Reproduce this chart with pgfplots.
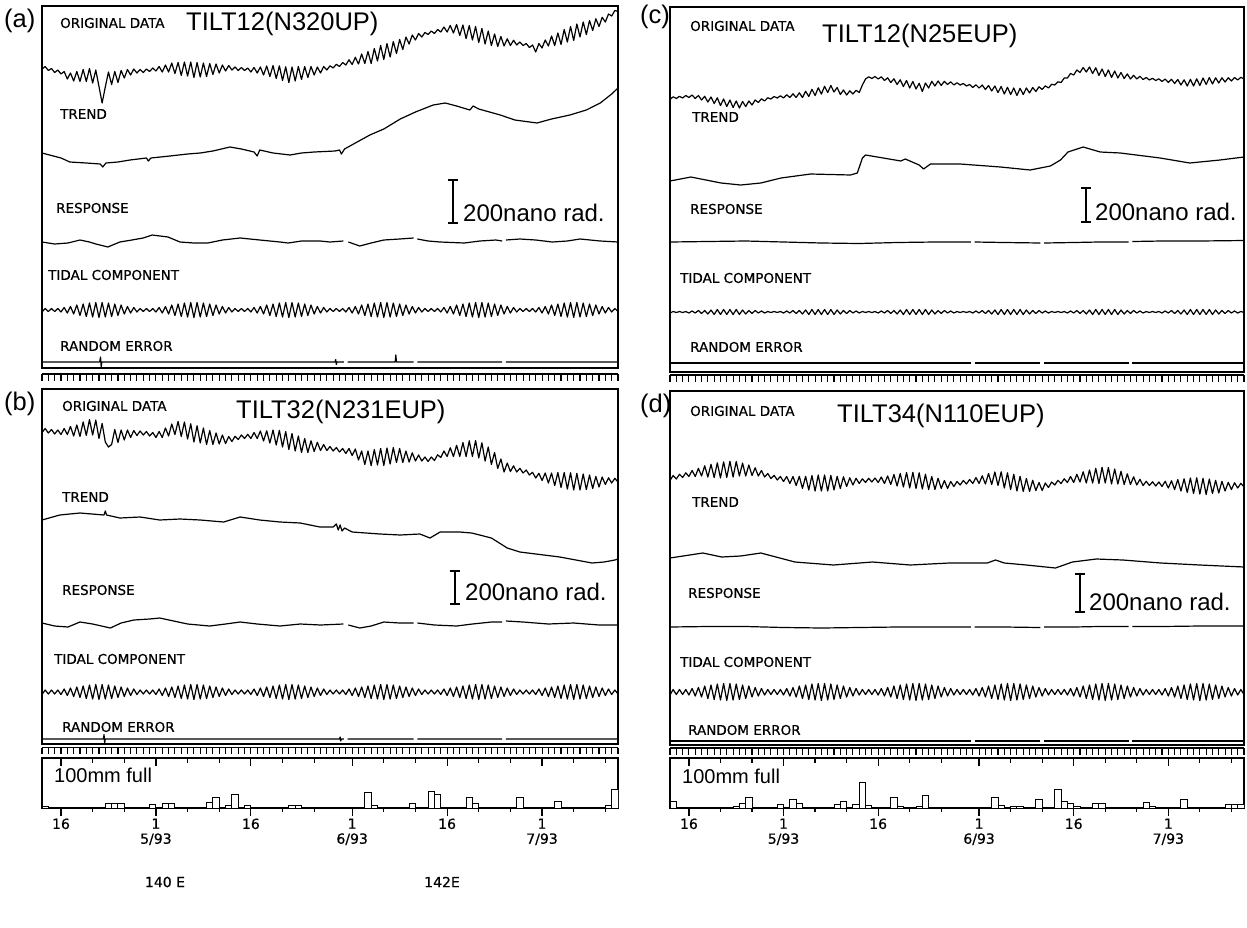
\documentclass[border=0pt]{standalone}
\usepackage{fontspec}
\setmainfont{Liberation Sans}
\newfontfamily\plt[FakeBold=0.6]{DejaVu Sans}
\usepackage{pgfplots}
\usepackage{pgfplotstable}
\pgfplotsset{compat=1.18}

% half-day samples: tidal components (t*) and original data (o*), values = position in the sheet (px rows)
\pgfplotstableread{
d ta oa tb ob tc oc td od
-18 312 69 694.5 432.5 313 99.5 695 480.5
-17.5 308.5 66.5 690 428.5 311.5 96.8 689.5 475.5
-17 311.5 70.5 694 433 312.5 98.5 694.5 479
-16.5 308.5 68.5 690 429.5 311.5 96.3 689.5 474.3
-16 311.5 72.5 694 434 312.5 98 694.5 477.5
-15.5 308.5 70 690 430 311.5 95.5 689.5 472.8
-15 312 74 694.5 434.5 313 97.5 695 476.5
-14.5 307.5 71.5 689 428.5 311 95 688.5 470.5
-14 313 79 695.5 434.5 313 98.5 696 476.5
-13.5 306.5 73 688 426.5 310.5 95.5 687.5 468.3
-13 314 81 696.5 436 313.5 100 697 476
-12.5 305 71.5 687 425 310.5 96.3 686 465.8
-12 315.5 81.5 697.5 436.5 314 102 698.5 477
-11.5 304 69.5 686 422 310 97 685 464.3
-11 316.5 81.5 698.5 435.5 314.5 103.5 699.5 477.5
-10.5 303 68.5 685 419.5 309.5 97.8 684 462.8
-10 317 83 699 435 314.5 105.5 700 478
-9.5 302.5 70 684.5 420 309.5 99 683.5 461.8
-9 317.5 86.5 699.5 438.5 314.5 106.5 700.5 477.5
-8.5 302.5 103 684.5 423.5 309.5 100 683.5 461.3
-8 317 87 699 442 314.5 107.5 700 477
-7.5 303 72 685 447 309.5 101 684 461.5
-7 316.5 84.5 698.5 444.5 314.5 108 699.5 476
-6.5 304 71.5 686 429.5 310 101.5 685 463
-6 315.5 82.5 697.5 442.5 314 106.5 698.5 476
-5.5 305 70.5 687 430 310.5 101 686 465
-5 314 78 696.5 440 313.5 105 697 475.5
-4.5 306.5 69.5 688 430 310.5 100 687.5 467.8
-4 313 75 695.5 437.5 313 102.5 696 476
-3.5 307.5 69 689 430.5 311 98.8 688.5 470.5
-3 312 73 694.5 435.5 313 101 695 477
-2.5 308.5 69.5 690 431 311.5 97.8 689.5 473.5
-2 311.5 72.5 694 435 312.5 99 694.5 478.5
-1.5 308.5 69 690 431.5 311.5 96.5 689.5 475.3
-1 311.5 71.5 694 436 312.5 98 694.5 480
-0.5 308.5 68 690 432.5 311.5 95.8 689.5 476.5
0 312 71 694.5 437.5 313 98 695 481.5
0.5 307.5 66.5 689 431.5 311 94.8 688.5 476.5
1 313 72 695.5 437.5 313 97.5 696 483.5
1.5 306.5 65 688 428 310.5 93.8 687.5 476.5
2 314 72 696.5 436 313.5 97.5 697 485.5
2.5 305 63 687 424 310.5 92.8 686 476.3
3 315.5 73.5 697.5 434.5 314 97.5 698.5 488.5
3.5 304 62.5 686 421.5 310 91.3 685 476.3
4 316.5 75.5 698.5 436.5 314.5 96.5 699.5 490
4.5 303 62 685 422 309.5 89.3 684 475.5
5 317 76 699 439 314.5 95.5 700 491
5.5 302.5 62 684.5 423.8 309.5 87.8 683.5 475
6 317.5 77.5 699.5 442 314.5 94 700.5 491
6.5 302.5 62.5 684.5 425.8 309.5 86.3 683.5 475
7 317 77 699 443 314.5 92.5 700 491
7.5 303 63 685 428 309.5 85.5 684 475.5
8 316.5 76.5 698.5 444.5 314.5 92 699.5 490
8.5 304 63.5 686 430.5 310 87.5 685 476.3
9 315.5 74.5 697.5 444.5 314 94.5 698.5 488.5
9.5 305 64 687 433 310.5 90 686 476.8
10 314 73 696.5 444 313.5 95 697 486.5
10.5 306.5 65 688 435 310.5 90.8 687.5 477.8
11 313 71 695.5 443.5 313 94 696 485
11.5 307.5 65.5 689 436.5 311 90.3 688.5 478.3
12 312 70 694.5 441.5 313 92.5 695 483.5
12.5 308.5 67 690 436.3 311.5 85 689.5 478.8
13 311.5 70.5 694 439.5 312.5 79 694.5 482.5
13.5 308.5 67.5 690 435 311.5 76.8 689.5 478.3
14 311.5 70.5 694 438.5 312.5 78.5 694.5 482
14.5 308.5 68 690 434.3 311.5 76.5 689.5 478
15 312 72 694.5 438.5 313 79 695 482.5
15.5 307.5 67.5 689 432.5 311 76.8 688.5 477
16 313 73 695.5 438.5 313 80.5 696 483.5
16.5 306.5 67 688 431 310.5 77.8 687.5 476
17 314 75 696.5 441 313.5 82.5 697 484.5
17.5 305 66 687 430.8 310.5 78.8 686 474.5
18 315.5 76.5 697.5 443 314 84.5 698.5 486
18.5 304 65.5 686 430 310 79.8 685 473.5
19 316.5 78.5 698.5 445 314.5 86.5 699.5 487
19.5 303 65.8 685 430.3 309.5 80.5 684 472.5
20 317 80.5 699 447 314.5 88 700 488
20.5 302.5 66.8 684.5 431.5 309.5 81.5 683.5 472.3
21 317.5 82.5 699.5 449.5 314.5 89 700.5 488.5
21.5 302.5 67 684.5 433.5 309.5 83.3 683.5 472.8
22 317 81 699 451 314.5 91.5 700 489
22.5 303 66.5 685 436 309.5 83 684 474.3
23 316.5 79.5 698.5 452.5 314.5 88 699.5 489.5
23.5 304 66.5 686 438.5 310 81.3 685 476.5
24 315.5 77.5 697.5 452.5 314 86 698.5 489.5
24.5 305 66.5 687 440.8 310.5 81 686 478.3
25 314 75 696.5 451.5 313.5 85.5 697 488.5
25.5 306.5 67 688 442.3 310.5 81.3 687.5 480.5
26 313 73 695.5 450.5 313 84.5 696 488.5
26.5 307.5 66.5 689 444.5 311 81.8 688.5 481.5
27 312 70 694.5 450.5 313 85 695 486.5
27.5 308.5 65.8 690 446.5 311.5 82.8 689.5 481.5
28 311.5 68 694 451 312.5 85 694.5 485
28.5 308.5 64.3 690 447.5 311.5 83.5 689.5 480.5
29 311.5 66.5 694 452 312.5 86 694.5 484
29.5 308.5 62.5 690 448.5 311.5 84.5 689.5 479.5
30 312 65 694.5 453.5 313 87.5 695 483.5
30.5 307.5 59.8 689 448.5 311 84.8 688.5 477.5
31 313 64.5 695.5 455.5 313 88 696 483.5
31.5 306.5 57.3 688 449 310.5 85 687.5 475.8
32 314 64 696.5 460 313.5 89.5 697 484
32.5 305 54 687 451 310.5 85.5 686 473.5
33 315.5 63.5 697.5 464.5 314 91 698.5 484.5
33.5 304 51.5 686 451 310 86 685 472
34 316.5 63.5 698.5 465.5 314.5 92.5 699.5 485.5
34.5 303 48.5 685 449.5 309.5 86.5 684 471.8
35 317 61 699 465 314.5 94 700 488
35.5 302.5 45.5 684.5 448.5 309.5 87.3 683.5 472.8
36 317.5 59.5 699.5 465.5 314.5 94.5 700.5 489.5
36.5 302.5 43.5 684.5 448 309.5 88 683.5 474.3
37 317 57 699 464 314.5 95.5 700 491
37.5 303 41.5 685 447.5 309.5 88.3 684 476.3
38 316.5 53.5 698.5 462.5 314.5 94.5 699.5 491.5
38.5 304 39.5 686 448.5 310 88 685 478.5
39 315.5 49.5 697.5 462.5 314 93 698.5 491.5
39.5 305 37 687 451 310.5 87.5 686 480.3
40 314 44 696.5 462 313.5 91.5 697 490.5
40.5 306.5 35 688 452.8 310.5 86.8 687.5 482.5
41 313 40 695.5 461 313 89.5 696 490.5
41.5 307.5 33.5 689 455 311 85.8 688.5 483
42 312 37 694.5 461 313 88 695 487.5
42.5 308.5 32.5 690 457 311.5 84.3 689.5 482
43 311.5 34.5 694 461.5 312.5 85 694.5 485
43.5 308.5 31 690 457 311.5 81.8 689.5 480.3
44 311.5 33.5 694 460.5 312.5 82.5 694.5 483.5
44.5 308.5 29.5 690 454.8 311.5 78 689.5 478.8
45 312 32 694.5 457.5 313 78 695 482.5
45.5 307.5 27 689 451 311 73.5 688.5 476.5
46 313 32 695.5 456.5 313 75 696 482.5
46.5 306.5 25.5 688 447.8 310.5 70 687.5 474.3
47 314 33 696.5 456.5 313.5 72.5 697 482
47.5 305 24.5 687 445.3 310.5 67.5 686 471.8
48 315.5 35.5 697.5 456.5 314 72 698.5 483
48.5 304 25 686 442.5 310 67 685 470
49 316.5 38.5 698.5 456.5 314.5 73.5 699.5 483
49.5 303 25.5 685 440.8 309.5 67.8 684 468.3
50 317 40 699 456.5 314.5 75.5 700 483.5
50.5 302.5 26.5 684.5 440.5 309.5 69 683.5 467.3
51 317.5 42.5 699.5 458 314.5 76.5 700.5 483
51.5 302.5 28.5 684.5 442.8 309.5 70 683.5 467.5
52 317 44 699 461 314.5 77.5 700 484
52.5 303 31 685 447 309.5 71 684 469
53 316.5 45.5 698.5 464.5 314.5 78 699.5 484
53.5 304 34 686 452.5 310 72.5 685 471.3
54 315.5 46.5 697.5 468.5 314 78.5 698.5 484.5
54.5 305 36.5 687 459 310.5 74 686 473.8
55 314 46 696.5 472 313.5 79 697 484.5
55.5 306.5 38.8 688 463 310.5 75.3 687.5 476.8
56 313 45.5 695.5 471.5 313 79 696 485
56.5 307.5 40.3 689 465.8 311 76.3 688.5 479.3
57 312 45 694.5 472 313 79.5 695 485.5
57.5 308.5 42 690 468.3 311.5 77.5 689.5 481.3
58 311.5 45.5 694 473 312.5 80 694.5 485.5
58.5 308.5 43.5 690 470 311.5 78.3 689.5 481.8
59 311.5 47.5 694 475 312.5 80.5 694.5 486
59.5 308.5 45 690 472.3 311.5 78.8 689.5 482
60 312 52 694.5 478 313 81.5 695 486.5
60.5 307.5 43.5 689 473.3 311 79 688.5 481.3
61 313 48 695.5 480.5 313 82.5 696 488
61.5 306.5 40 688 473 310.5 79.3 687.5 480.8
62 314 46 696.5 483 313.5 83.5 697 489.5
62.5 305 36 687 473 310.5 79.5 686 479.5
63 315.5 45.5 697.5 485.5 314 85 698.5 491
63.5 304 33 686 472.5 310 79.8 685 478.8
64 316.5 44.5 698.5 487.5 314.5 86 699.5 492.5
64.5 303 29.5 685 472.5 309.5 79.3 684 478
65 317 42 699 489 314.5 86 700 493.5
65.5 302.5 26.5 684.5 472.8 309.5 78.8 683.5 477.8
66 317.5 40.5 699.5 490 314.5 85.5 700.5 494
66.5 302.5 24 684.5 473.3 309.5 78 683.5 478.3
67 317 37 699 490 314.5 84.5 700 494.5
67.5 303 22 685 474 309.5 77.5 684 479
68 316.5 34.5 698.5 489.5 314.5 84 699.5 493.5
68.5 304 20.5 686 475 310 77.8 685 480.3
69 315.5 30.5 697.5 488.5 314 83 698.5 493
69.5 305 18.8 687 476.5 310.5 77.8 686 481.3
70 314 26.5 696.5 487 313.5 82 697 491
70.5 306.5 17.3 688 477 310.5 77.8 687.5 482.3
71 313 22 695.5 484.5 313 81 696 489.5
71.5 307.5 14 689 477.8 311 77.5 688.5 482.8
72 312 16 694.5 483 313 80 695 488
72.5 308.5 10.5 690 478.3 311.5 77.3 689.5 483.3
73 311.5 11.5 694 482 312.5 79 694.5 487
}\tides

\pgfplotsset{
  panel/.style={scale only axis, anchor=north west, xmin=-18, xmax=73,
    y dir=reverse, xtick=\empty, ytick=\empty,
    axis line style={line width=1.3pt}, unbounded coords=jump},
  tr/.style={black, line width=1.2pt, line join=round, mark=none},
  strip/.style={scale only axis, anchor=north west, height=6.5pt,
    xmin=-18, xmax=73, ymin=0, ymax=1,
    axis x line*=top, axis y line=none, ytick=\empty,
    xtick={-18,...,73}, xticklabels={}, tick align=inside,
    major tick length=6.5pt, tick style={line width=1.1pt, black},
    x axis line style={line width=1.2pt}},
  rain/.style={scale only axis, anchor=north west, height=50pt,
    xmin=-18, xmax=73, ymin=0, ymax=100, ytick=\empty,
    axis line style={line width=1.3pt},
    xtick={-15,0,15,31,46,61},
    xticklabels={16,{1\\5/93},16,{1\\6/93},16,{1\\7/93}},
    minor xtick={-10,-5,5,10,20,25,36,41,51,56,66,71},
    xtick pos=left, tick align=outside,
    major tick length=8pt, minor tick length=4pt,
    tick style={line width=1.2pt, black},
    xticklabel style={font=\plt\fontsize{14}{15}\selectfont, align=center, yshift=1pt}},
  raintop/.style={scale only axis, anchor=north west, height=50pt,
    xmin=-18, xmax=73, ymin=0, ymax=100,
    axis x line*=top, axis y line=none, ytick=\empty,
    xtick={-15,0,15,31,46,61}, xticklabels={},
    minor xtick={-10,-5,5,10,20,25,36,41,51,56,66,71},
    tick align=inside, major tick length=8pt, minor tick length=5pt,
    tick style={line width=1.2pt, black}, x axis line style={line width=1.3pt}},
  rbar/.style={ybar, bar width=1, bar shift=0pt, fill=white, draw=black, line width=1pt}
}
\tikzset{
  lab/.style={font=\plt\fontsize{13.5}{16}\selectfont, anchor=west, inner sep=0pt, text height=9.8pt, text depth=0pt},
  ttl/.style={font=\fontsize{25.5}{28}\selectfont, anchor=west, inner sep=0pt, text height=18.3pt, text depth=0pt},
  sbt/.style={font=\fontsize{24}{26}\selectfont, anchor=west, inner sep=0pt, text height=17pt, text depth=0pt}
}

\begin{document}
\begin{tikzpicture}
\path[use as bounding box] (0pt,0pt) rectangle (1247pt,-928pt);

% ---------------- panel (a)
\begin{axis}[panel, at={(42pt,-6pt)}, width=576pt, height=362pt, ymin=6, ymax=368]
\addplot[tr] table[x=d,y=oa]{\tides};
\addplot[tr] coordinates {(-18,153) (-15,158) (-13.6,162) (-11,163) (-8.8,164) (-8.4,167) (-7.9,163) (-6,162) (-4.1,160) (-1.5,158) (-1.2,161) (-0.8,158) (2.2,156) (5,154) (7,153) (9,151) (11.7,147) (13.5,149) (15.5,152) (16,156) (16.4,150) (18.5,153) (21.2,155) (23,153) (25,152) (28.3,151) (29,150) (29.3,154) (29.8,149) (31.5,143) (33.8,135) (36,129) (38.6,119) (41,112) (43.8,105) (45.7,103) (47.5,106) (49.6,110) (50.1,106) (51,109) (54.4,115) (56.7,120) (60.2,123) (62.5,119) (65.4,115) (68,110) (70.2,103) (72,94) (73,88)};
\addplot[tr] coordinates {(-18,242) (-16,244) (-13.9,243) (-12,240) (-10.5,242) (-9.5,244) (-7.6,247) (-5.7,242) (-3.8,240) (-2,238) (-0.6,235) (1.9,237) (3.8,242) (6,243) (8.2,243) (10.5,240) (13.3,238) (16.4,240) (19.6,242) (20.9,243) (23,241) (25.9,241) (27.5,242) (29.6,241) (30,nan) (30.4,242) (32.2,246) (34,243) (36,240) (38.5,239) (40.7,238) (41,nan) (41.3,239) (43,241) (44.9,242) (48.7,243) (51.2,241) (53.7,240) (54.7,241) (55,nan) (55.3,240) (57.5,239) (60,240) (62.6,242) (65,241) (67,239) (70.2,241) (73,242)};
\addplot[tr] table[x=d,y=ta]{\tides};
\addplot[tr] coordinates {(-18,362) (-8.9,362) (-8.75,357) (-8.65,367) (-8.55,362) (28.3,362) (28.4,359.5) (28.5,364.5) (28.6,362) (29.7,362) (30,nan) (30.3,362) (37.8,362) (37.9,355) (38.0,362) (40.7,362) (41,nan) (41.3,362) (54.7,362) (55,nan) (55.3,362) (73,362)};
\end{axis}
\begin{axis}[strip, at={(42pt,-374pt)}, width=576pt]
\addplot[draw=none] coordinates {(0,0.5)};
\end{axis}

% ---------------- panel (b)
\begin{axis}[panel, at={(42pt,-389pt)}, width=576pt, height=355pt, ymin=389, ymax=744]
\addplot[tr] table[x=d,y=ob]{\tides};
\addplot[tr] coordinates {(-18,520) (-15.2,515) (-12,513) (-8.2,515) (-8,511) (-7.8,515) (-5.7,518) (-2.5,517) (0.6,520) (3.8,519) (7,520) (10.7,522) (13.3,517) (16.4,520) (19.6,522) (22.8,523) (25.9,527) (28,527) (28.5,524) (28.8,530) (29.1,525) (29.4,531) (29.8,528) (31,532) (35.4,534) (38.6,535) (41.7,534) (43.3,538) (44.9,532) (48,532) (49.9,533) (53,538) (55.5,548) (57.5,552) (63.8,557) (68.9,563) (70.8,562) (72.5,560) (73,559)};
\addplot[tr] coordinates {(-18,623) (-16,626) (-13.9,627) (-12,622) (-10,624) (-7.2,628) (-5.5,623) (-3.5,620) (-1,619) (0.6,618) (2.8,621) (5,624) (8.5,626) (11,624) (13.3,622) (16,624) (19.6,626) (22.8,624) (26,625) (29.6,624) (30,nan) (30.4,625) (32.2,628) (34,626) (36,622) (38.5,623) (40.7,623) (41,nan) (41.3,623) (44,625) (47.5,626) (50,624) (53,622) (54.7,622) (55,nan) (55.3,621) (58,622) (62,624) (66,623) (70,625) (73,625)};
\addplot[tr] table[x=d,y=tb]{\tides};
\addplot[tr] coordinates {(-18,739) (-8.3,739) (-8.2,734.5) (-8.1,743) (-8.0,739) (29.0,739) (29.1,737) (29.2,741) (29.3,739) (29.7,739) (30,nan) (30.3,739) (40.7,739) (41,nan) (41.3,739) (54.7,739) (55,nan) (55.3,739) (73,739)};
\end{axis}
\begin{axis}[strip, at={(42pt,-747.5pt)}, width=576pt]
\addplot[draw=none] coordinates {(0,0.5)};
\end{axis}

% ---------------- panel (c)
\begin{axis}[panel, at={(670pt,-7pt)}, width=574pt, height=365pt, ymin=7, ymax=372]
\addplot[tr] table[x=d,y=oc]{\tides};
\addplot[tr] coordinates {(-18,181) (-14.7,177) (-9.9,183) (-6.8,185) (-3.6,183) (-0.4,178) (4.3,174) (10.6,175) (11.7,173) (12.5,158) (13,155) (18.6,161) (19.3,159) (21.5,165) (22.2,169) (23.3,164) (28,164) (34.4,167) (39.1,170) (42.3,166) (43.9,160) (45.1,152) (47.5,147) (50.2,152) (53.4,153) (59.7,158) (64.4,163) (69.2,160) (73,157)};
\addplot[tr] coordinates {(-18,242) (-12,241.5) (-6,241) (0,242) (6,243) (12,243.5) (18,242.5) (24,242) (29.7,242) (30,nan) (30.3,242) (35,242.5) (40.7,243) (41,nan) (41.3,243) (46,242.5) (50,242) (54.7,242) (55,nan) (55.3,241.5) (60,241) (66,241) (73,240.5)};
\addplot[tr] table[x=d,y=tc]{\tides};
\addplot[tr] coordinates {(-18,363) (29.7,363) (30,nan) (30.3,363) (40.7,363) (41,nan) (41.3,363) (54.7,363) (55,nan) (55.3,363) (73,363)};
\end{axis}
\begin{axis}[strip, at={(670pt,-375pt)}, width=574pt]
\addplot[draw=none] coordinates {(0,0.5)};
\end{axis}

% ---------------- panel (d)
\begin{axis}[panel, at={(670pt,-391pt)}, width=574pt, height=354pt, ymin=391, ymax=745]
\addplot[tr] table[x=d,y=od]{\tides};
\addplot[tr] coordinates {(-18,558) (-12.8,553) (-9.8,557) (-6.8,556) (-3.6,553) (-1.2,557) (1.8,562) (7.9,565) (14.1,562) (20.1,565) (26.3,563) (32.3,563) (33.6,560) (35,563) (38.5,565) (43.1,568) (45.8,562) (49.6,559) (53.8,560) (59.8,563) (66,565) (73,567)};
\addplot[tr] coordinates {(-18,627) (-12,626.5) (-6,626.5) (0,627.5) (6,628) (12,627.5) (18,627) (24,627) (29.7,627) (30,nan) (30.3,627) (35,627) (40.7,627.5) (41,nan) (41.3,627) (46,627) (50,626.5) (54.7,626.5) (55,nan) (55.3,626.5) (60,626.5) (66,626) (73,626)};
\addplot[tr] table[x=d,y=td]{\tides};
\addplot[tr] coordinates {(-18,741) (29.7,741) (30,nan) (30.3,741) (40.7,741) (41,nan) (41.3,741) (54.7,741) (55,nan) (55.3,741) (73,741)};
\end{axis}
\begin{axis}[strip, at={(670pt,-748pt)}, width=574pt]
\addplot[draw=none] coordinates {(0,0.5)};
\end{axis}

% ---------------- rainfall, left
\begin{axis}[rain, at={(42pt,-758pt)}, width=576pt]
\addplot[rbar] coordinates {(-17.5,4) (-7.5,9) (-6.5,9) (-5.5,10) (-2.5,2) (-0.5,8) (1.5,10) (2.5,10) (8.5,12) (9.5,22) (11.5,5) (12.5,28) (14.5,5) (21.5,5) (22.5,6) (33.5,32) (34.5,5) (40.5,9) (43.5,34) (44.5,28) (49.5,22) (50.5,10) (57.5,22) (63.5,14) (71.5,5) (72.5,38)};
\end{axis}
\begin{axis}[raintop, at={(42pt,-758pt)}, width=576pt]
\addplot[draw=none] coordinates {(0,50)};
\end{axis}

% ---------------- rainfall, right
\begin{axis}[rain, at={(670pt,-758pt)}, width=574pt]
\addplot[rbar] coordinates {(-17.5,13) (-7.5,4) (-6.5,10) (-5.5,22) (-2.5,2) (-0.5,8) (1.5,17) (2.5,9) (8.5,8) (9.5,14) (11.5,7) (12.5,52) (13.5,5) (17.5,21) (18.5,4) (21.5,3) (22.5,25) (24.5,2) (33.5,22) (34.5,6) (36.5,3) (37.5,4) (40.5,17) (43.5,38) (44.5,13) (45.5,10) (46.5,3) (49.5,9) (50.5,10) (57.5,12) (58.5,3) (63.5,17) (70.5,8) (71.5,7) (72.5,8)};
\end{axis}
\begin{axis}[raintop, at={(670pt,-758pt)}, width=574pt]
\addplot[draw=none] coordinates {(0,50)};
\end{axis}

% ---------------- texts
\node[ttl] at (4pt,-18pt) {(a)};
\node[ttl] at (4pt,-401pt) {(b)};
\node[ttl] at (640pt,-14pt) {(c)};
\node[ttl] at (640pt,-403pt) {(d)};

\node[lab] at (60pt,-23pt) {ORIGINAL DATA};
\node[ttl] at (186pt,-21pt) {TILT12(N320UP)};
\node[lab] at (60pt,-114pt) {TREND};
\node[lab] at (56pt,-208pt) {RESPONSE};
\node[lab] at (48pt,-275pt) {TIDAL COMPONENT};
\node[lab] at (60pt,-346pt) {RANDOM ERROR};

\node[lab] at (62pt,-406pt) {ORIGINAL DATA};
\node[ttl] at (236pt,-409pt) {TILT32(N231EUP)};
\node[lab] at (62pt,-497pt) {TREND};
\node[lab] at (62pt,-590pt) {RESPONSE};
\node[lab] at (54pt,-659pt) {TIDAL COMPONENT};
\node[lab] at (62pt,-727pt) {RANDOM ERROR};

\node[lab] at (690pt,-26pt) {ORIGINAL DATA};
\node[ttl] at (822pt,-33pt) {TILT12(N25EUP)};
\node[lab] at (692pt,-117pt) {TREND};
\node[lab] at (690pt,-209pt) {RESPONSE};
\node[lab] at (680pt,-278pt) {TIDAL COMPONENT};
\node[lab] at (690pt,-347pt) {RANDOM ERROR};

\node[lab] at (690pt,-411pt) {ORIGINAL DATA};
\node[ttl] at (837pt,-413pt) {TILT34(N110EUP)};
\node[lab] at (692pt,-502pt) {TREND};
\node[lab] at (688pt,-593pt) {RESPONSE};
\node[lab] at (680pt,-662pt) {TIDAL COMPONENT};
\node[lab] at (688pt,-730pt) {RANDOM ERROR};

% scale bars (200 nano rad.)
\begin{scope}[line width=1.3pt]
\draw (453pt,-180pt) -- (453pt,-223pt); \draw (448pt,-180pt) -- (458pt,-180pt); \draw (448pt,-223pt) -- (458pt,-223pt);
\draw (455pt,-571pt) -- (455pt,-604pt); \draw (450pt,-571pt) -- (460pt,-571pt); \draw (450pt,-604pt) -- (460pt,-604pt);
\draw (1086pt,-188pt) -- (1086pt,-222pt); \draw (1081pt,-188pt) -- (1091pt,-188pt); \draw (1081pt,-222pt) -- (1091pt,-222pt);
\draw (1080pt,-574pt) -- (1080pt,-612pt); \draw (1075pt,-574pt) -- (1085pt,-574pt); \draw (1075pt,-612pt) -- (1085pt,-612pt);
\end{scope}
\node[sbt] at (463pt,-213pt) {200nano rad.};
\node[sbt] at (465pt,-592pt) {200nano rad.};
\node[sbt] at (1095pt,-212pt) {200nano rad.};
\node[sbt] at (1089pt,-602pt) {200nano rad.};

\node[anchor=west, inner sep=0pt, font=\fontsize{20}{22}\selectfont, text height=14.5pt, text depth=0pt] at (54pt,-775pt) {100mm full};
\node[anchor=west, inner sep=0pt, font=\fontsize{20}{22}\selectfont, text height=14.5pt, text depth=0pt] at (682pt,-776pt) {100mm full};

\node[font=\plt\fontsize{14}{16}\selectfont] at (165pt,-882pt) {140 E};
\node[font=\plt\fontsize{14}{16}\selectfont] at (442pt,-882pt) {142E};
\end{tikzpicture}
\end{document}
